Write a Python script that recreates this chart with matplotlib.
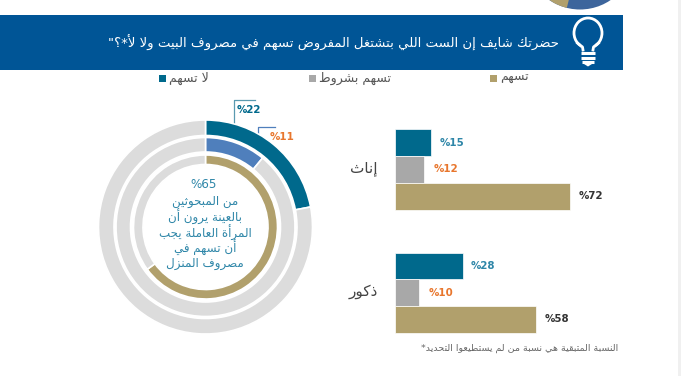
import matplotlib
matplotlib.use("Agg")
import matplotlib.pyplot as plt
from matplotlib.patches import Rectangle, Ellipse, Polygon, Wedge

W, H = 681, 376

# shaping table: letter -> isolated, final, initial, medial
FORMS = {
 'ء':'ﺀ', 'آ':'ﺁﺂ', 'أ':'ﺃﺄ', 'ؤ':'ﺅﺆ', 'إ':'ﺇﺈ', 'ئ':'ﺉﺊﺋﺌ', 'ا':'ﺍﺎ', 'ب':'ﺏﺐﺑﺒ', 'ة':'ﺓﺔ',
 'ت':'ﺕﺖﺗﺘ', 'ث':'ﺙﺚﺛﺜ', 'ج':'ﺝﺞﺟﺠ', 'ح':'ﺡﺢﺣﺤ', 'خ':'ﺥﺦﺧﺨ', 'د':'ﺩﺪ', 'ذ':'ﺫﺬ', 'ر':'ﺭﺮ',
 'ز':'ﺯﺰ', 'س':'ﺱﺲﺳﺴ', 'ش':'ﺵﺶﺷﺸ', 'ص':'ﺹﺺﺻﺼ', 'ض':'ﺽﺾﺿﻀ', 'ط':'ﻁﻂﻃﻄ', 'ظ':'ﻅﻆﻇﻈ',
 'ع':'ﻉﻊﻋﻌ', 'غ':'ﻍﻎﻏﻐ', 'ف':'ﻑﻒﻓﻔ', 'ق':'ﻕﻖﻗﻘ', 'ك':'ﻙﻚﻛﻜ', 'ل':'ﻝﻞﻟﻠ', 'م':'ﻡﻢﻣﻤ',
 'ن':'ﻥﻦﻧﻨ', 'ه':'ﻩﻪﻫﻬ', 'و':'ﻭﻮ', 'ى':'ﻯﻰ', 'ي':'ﻱﻲﻳﻴ',
}
LAM_ALEF = {'ا':'ﻻﻼ', 'أ':'ﻷﻸ', 'إ':'ﻹﻺ', 'آ':'ﻵﻶ'}


def ar(text):
    # matplotlib does no arabic shaping, so pick the joined forms here
    out = []
    i = 0
    joins_prev = False
    while i < len(text):
        c = text[i]
        if c not in FORMS:
            out.append(c)
            joins_prev = False
            i += 1
            continue
        if c == 'ل' and i + 1 < len(text) and text[i + 1] in LAM_ALEF:
            out.append(LAM_ALEF[text[i + 1]][1 if joins_prev else 0])
            joins_prev = False
            i += 2
            continue
        f = FORMS[c]
        can_next = len(f) == 4 and i + 1 < len(text) and text[i + 1] in FORMS
        if joins_prev and can_next:
            out.append(f[3])
        elif joins_prev:
            out.append(f[1])
        elif can_next:
            out.append(f[2])
        else:
            out.append(f[0])
        joins_prev = can_next
        i += 1
    return ''.join(out)[::-1]


title = "حضرتك شايف إن الست اللي بتشتغل المفروض تسهم في مصروف البيت ولا لأ*؟\""
legend_labels = ["لا تسهم", "تسهم بشروط", "تسهم"]
groups = ["إناث", "ذكور"]
no_vals = [15, 28]
cond_vals = [12, 10]
yes_vals = [72, 58]
ring_vals = [22, 11, 65]
center_lines = ["من المبحوثين", "بالعينة يرون أن", "المرأة العاملة يجب", "أن تسهم في", "مصروف المنزل"]
note = "النسبة المتبقية هي نسبة من لم يستطيعوا التحديد*"

TEAL = "#00698c"
GREY = "#a8a8a8"
TAN = "#b1a06c"
BLUE = "#4f7fbc"
RING = "#dcdcdc"
NAVY = "#005596"
ORANGE = "#e8762d"
LABEL_TEAL = "#2e86a8"

plt.rcParams['font.family'] = ['DejaVu Sans']
fig = plt.figure(figsize=(W / 100, H / 100), dpi=100, facecolor="white")


def px_axes(x0, y0, x1, y1):
    return fig.add_axes([x0 / W, 1 - y1 / H, (x1 - x0) / W, (y1 - y0) / H])


# page layer in pixel coordinates
bg = fig.add_axes([0, 0, 1, 1])
bg.set_xlim(0, W)
bg.set_ylim(H, 0)
bg.axis("off")
bg.add_patch(Rectangle((0, 15), 623, 55, color=NAVY, lw=0))
bg.add_patch(Rectangle((678, 0), 3, H, color="#f0f0f0", lw=0))

# piece of the pie from the previous chart
bg.add_patch(Wedge((580, -45), 54.5, 0, 180, color="#3d659c", lw=0))
bg.add_patch(Wedge((580, -45), 54.5, 104, 180, color=TAN, lw=0))

# bulb icon
bg.add_patch(Ellipse((588, 33), 28, 30, fill=False, ec="white", lw=2))
bg.add_patch(Rectangle((581, 44), 14, 8, color=NAVY, lw=0))
bg.plot([577.5, 582.5, 583], [43, 47, 50], color="white", lw=2)
bg.plot([598.5, 593.5, 593], [43, 47, 50], color="white", lw=2)
for yy, x0, x1 in [(52.5, 582, 596), (57.5, 582, 596), (62, 583, 595)]:
    bg.plot([x0 - 1, x1 - 1], [yy, yy], color="white", lw=2.2, solid_capstyle="butt")
bg.add_patch(Polygon([[584, 64], [592, 64], [588, 66.5]], color="white", lw=0))

bg.text(559, 43, ar(title), color="white", fontsize=9.5, ha="right", va="center")

# legend
for x, col, lab in [(159, TEAL, legend_labels[0]), (309, GREY, legend_labels[1]), (490, TAN, legend_labels[2])]:
    bg.add_patch(Rectangle((x, 75), 7, 7, color=col, lw=0))
    bg.text(x + 10, 78, ar(lab), color="#555555", fontsize=9, ha="left", va="center")

# rings
cx, cy, rmax = 205.5, 227, 107
ring_ax = px_axes(cx - rmax, cy - rmax, cx + rmax, cy + rmax)
ring_ax.set_xlim(-rmax, rmax)
ring_ax.set_ylim(-rmax, rmax)
ring_ax.set_aspect("equal")
ring_ax.axis("off")
ring_cols = [TEAL, BLUE, TAN]
ring_r = [107, 89.5, 72]
ring_w = [15.5, 14.5, 9.5]
for val, col, r, w in zip(ring_vals, ring_cols, ring_r, ring_w):
    wedges, _ = ring_ax.pie([val, 100 - val], colors=[col, RING], radius=r, startangle=90, counterclock=False,
                            wedgeprops=dict(width=w, edgecolor="white", linewidth=1.2))
ring_ax.set_xlim(-rmax, rmax)
ring_ax.set_ylim(-rmax, rmax)

# leader lines and ring labels
bg.plot([234, 234, 255], [125, 100, 100], color="#5a9ab0", lw=0.9)
bg.plot([258, 258, 275], [152, 127, 127], color="#4f7fbc", lw=0.9)
bg.text(248.5, 110, "%22", color=TEAL, fontsize=7.4, fontweight="bold", ha="center", va="center")
bg.text(282.5, 137, "%11", color=ORANGE, fontsize=7.4, fontweight="bold", ha="center", va="center")

bg.text(204, 184, "%65", color=LABEL_TEAL, fontsize=8.6, ha="center", va="center")
for k, line in enumerate(center_lines):
    bg.text(205, 201.5 + k * 15.6, ar(line), color=LABEL_TEAL, fontsize=8.6, ha="center", va="center")

# bars
bar_ax = px_axes(395, 120, 395 + 243, 340)
bar_ax.set_xlim(0, 100)
bar_ax.set_ylim(340, 120)
bar_ax.axis("off")
pos = [169.5, 292.7]
for i, g in enumerate(pos):
    bar_ax.barh(g - 26.7, no_vals[i], height=26.7, color=TEAL, edgecolor="white", linewidth=0.5)
    bar_ax.barh(g, cond_vals[i], height=26.7, color=GREY, edgecolor="white", linewidth=0.5)
    bar_ax.barh(g + 26.7, yes_vals[i], height=26.7, color=TAN, edgecolor="white", linewidth=0.5)
    bar_ax.annotate("%" + str(no_vals[i]), (no_vals[i], g - 26.7), xytext=(8, 0), textcoords="offset pixels",
                    color=LABEL_TEAL, fontsize=7.4, fontweight="bold", va="center")
    bar_ax.annotate("%" + str(cond_vals[i]), (cond_vals[i], g), xytext=(9, 0), textcoords="offset pixels",
                    color=ORANGE, fontsize=7.4, fontweight="bold", va="center")
    bar_ax.annotate("%" + str(yes_vals[i]), (yes_vals[i], g + 26.7), xytext=(9, 0), textcoords="offset pixels",
                    color="#333333", fontsize=7.4, fontweight="bold", va="center")
    bg.text(378, pos[i] - 1, ar(groups[i]), color="#444444", fontsize=11, ha="right", va="center")

bg.text(618, 348, ar(note), color="#666666", fontsize=6.8, ha="right", va="center")

fig.savefig("out.png", dpi=100, facecolor="white")
